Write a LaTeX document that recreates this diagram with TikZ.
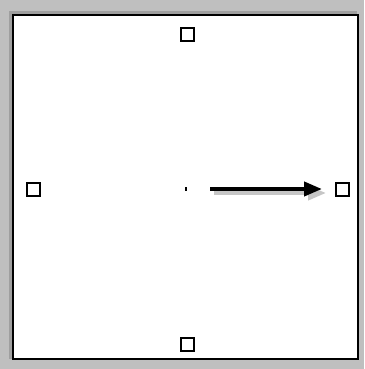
\documentclass[tikz,border=0pt]{standalone}
\usetikzlibrary{arrows.meta}
\begin{document}
\begin{tikzpicture}[x=1pt,y=-1pt,
  handle/.style={draw=black,line width=2pt,fill=white,minimum size=13pt,inner sep=0pt,outer sep=0pt},
  vec/.style={line width=4pt,-{Triangle[length=18pt,width=14pt]}},
]
\useasboundingbox (0,0) rectangle (364,369);
\fill[gray!50] (0,0) rectangle (364,369);
\fill[gray!75] (9,11) rectangle (357,359);
\fill[white] (13,15) rectangle (358,359);
\draw[black,line width=2pt] (13,15) rectangle (358,359);
\node[handle] (top) at (187,35) {};
\node[handle] (bottom) at (187,344) {};
\node[handle] (left) at (33,189) {};
\node[handle] (right) at (342,189) {};
\coordinate (c) at (186,189);
\fill[black] (185.3,187.3) rectangle (186.9,190.7);
\coordinate (s) at (210,189);
\coordinate (e) at (322,189);
\draw[vec,draw=gray!45,fill=gray!45] ([shift={(4,4)}]s) -- ([shift={(4,4)}]e);
\draw[vec,draw=black,fill=black] (s) -- (e);
\end{tikzpicture}
\end{document}
